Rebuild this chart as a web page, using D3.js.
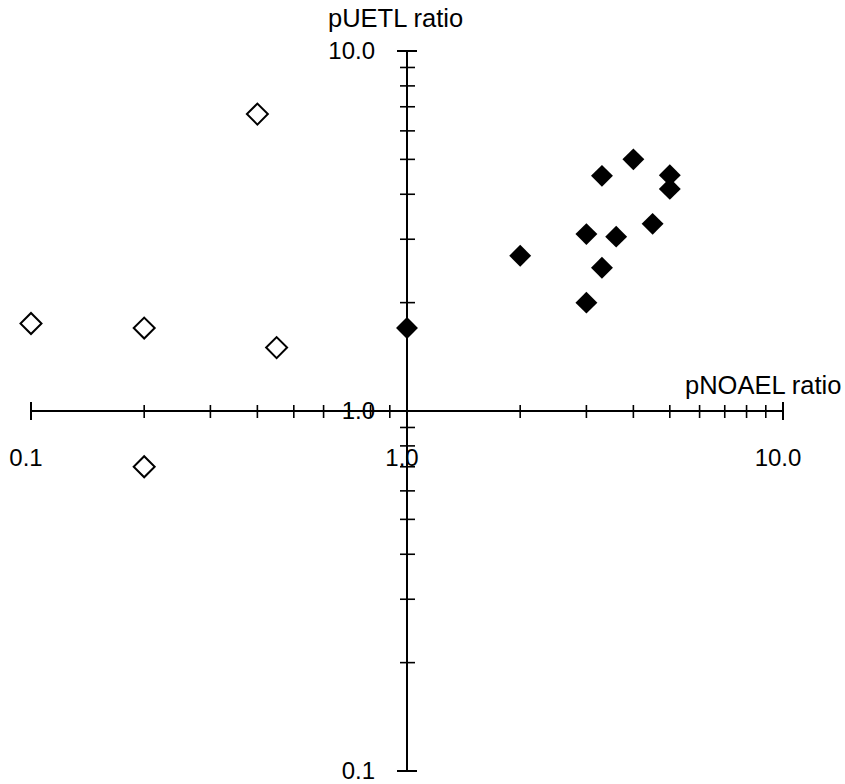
<!DOCTYPE html>
<html>
<head>
<meta charset="utf-8">
<script src="https://cdn.jsdelivr.net/npm/d3@7"></script>
<style>
  html, body { margin: 0; padding: 0; background: #fff; }
  svg { display: block; }
  text { font-family: "Liberation Sans", Arial, sans-serif; fill: #000; }
</style>
</head>
<body>
<svg id="chart" width="845" height="784"></svg>
<script>
// Data (pNOAEL ratio, pUETL ratio)
const hollowX = [0.1, 0.2, 0.2, 0.4, 0.45];
const hollowY = [1.75, 1.70, 0.70, 6.68, 1.50];
const filledX = [1.0, 2.0, 3.0, 3.6, 3.3, 3.0, 3.3, 4.0, 5.0, 5.0, 4.5];
const filledY = [1.70, 2.70, 3.10, 3.05, 2.50, 2.0, 4.50, 5.0, 4.52, 4.14, 3.31];
const xTickLabels = ["0.1", "1.0", "10.0"];
const yTickLabels = ["10.0", "1.0", "0.1"];
const xTitle = "pNOAEL ratio";
const yTitle = "pUETL ratio";

const svg = d3.select("#chart");
const x = d3.scaleLog().domain([0.1, 10]).range([31, 783]);
const y = d3.scaleLog().domain([0.1, 10]).range([771, 51]);

const minorTicks = [];
for (const dec of [0.1, 1]) for (let k = 2; k <= 9; k++) minorTicks.push(+(dec * k).toFixed(2));

const g = svg.append("g");
const x0 = x(1), y0 = y(1);

// X axis
g.append("line").attr("x1", x(0.1)).attr("x2", x(10)).attr("y1", y0).attr("y2", y0)
  .attr("stroke", "#000").attr("stroke-width", 2);
g.selectAll(".xminor").data(minorTicks).enter().append("line")
  .attr("x1", d => x(d)).attr("x2", d => x(d)).attr("y1", y0 - 6).attr("y2", y0 + 7)
  .attr("stroke", "#000").attr("stroke-width", 1.6);
g.selectAll(".xend").data([0.1, 10]).enter().append("line")
  .attr("x1", d => x(d)).attr("x2", d => x(d)).attr("y1", y0 - 9).attr("y2", y0 + 9)
  .attr("stroke", "#000").attr("stroke-width", 2);

// Y axis
g.append("line").attr("x1", x0).attr("x2", x0).attr("y1", y(10)).attr("y2", y(0.1))
  .attr("stroke", "#000").attr("stroke-width", 2);
g.selectAll(".yminor").data(minorTicks).enter().append("line")
  .attr("x1", x0 - 7).attr("x2", x0 + 8).attr("y1", d => y(d)).attr("y2", d => y(d))
  .attr("stroke", "#000").attr("stroke-width", 1.6);
g.selectAll(".yend").data([0.1, 10]).enter().append("line")
  .attr("x1", x0 - 10).attr("x2", x0 + 10).attr("y1", d => y(d)).attr("y2", d => y(d))
  .attr("stroke", "#000").attr("stroke-width", 2);

// tick labels
const fs = 24;
g.selectAll(".xl").data([0.1, 1, 10]).enter().append("text")
  .attr("x", d => x(d) - 5).attr("y", 466)
  .attr("text-anchor", "middle").attr("font-size", fs)
  .text((d, i) => xTickLabels[i]);
g.selectAll(".yl").data([10, 1, 0.1]).enter().append("text")
  .attr("x", 375).attr("y", d => y(d) + 8)
  .attr("text-anchor", "end").attr("font-size", fs)
  .text((d, i) => yTickLabels[i]);

// axis titles
g.append("text").attr("x", 685).attr("y", 394).attr("font-size", 25.5).text(xTitle);
g.append("text").attr("x", 328).attr("y", 27).attr("font-size", 25.5).text(yTitle);

// markers
const sym = d3.symbol().type(d3.symbolSquare).size(220);
g.selectAll(".hollow").data(hollowX.map((v, i) => [v, hollowY[i]])).enter().append("path")
  .attr("d", sym)
  .attr("transform", d => `translate(${x(d[0])},${y(d[1])}) rotate(45)`)
  .attr("fill", "#fff").attr("stroke", "#000").attr("stroke-width", 2);
g.selectAll(".filled").data(filledX.map((v, i) => [v, filledY[i]])).enter().append("path")
  .attr("d", d3.symbol().type(d3.symbolSquare).size(240))
  .attr("transform", d => `translate(${x(d[0])},${y(d[1])}) rotate(45)`)
  .attr("fill", "#000");
</script>
</body>
</html>
